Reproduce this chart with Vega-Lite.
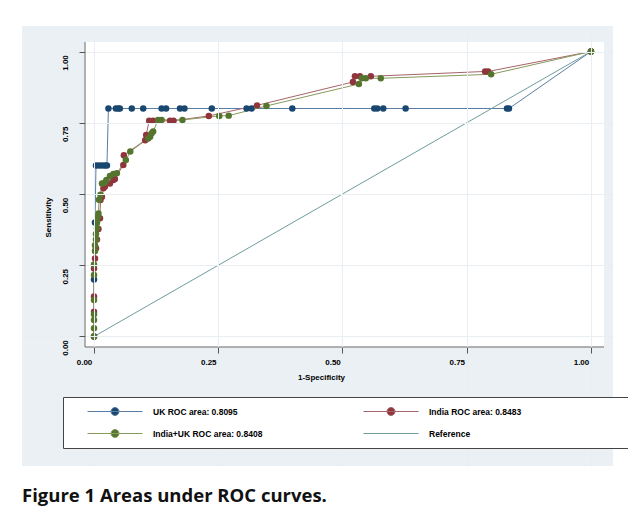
{
  "$schema": "https://vega.github.io/schema/vega-lite/v6.json",
  "width": 591,
  "height": 440,
  "autosize": {"type": "none"},
  "padding": {"left": 22, "top": 26, "right": 15, "bottom": 55},
  "background": "white",
  "config": {
    "view": {"fill": "#eaf0f3", "stroke": null},
    "font": "Liberation Sans"
  },
  "title": {
    "text": "Figure 1 Areas under ROC curves.",
    "orient": "bottom",
    "anchor": "start",
    "offset": 21,
    "font": "Open Sans",
    "fontSize": 18.5,
    "fontWeight": 700,
    "color": "#111111",
    "baseline": "top"
  },
  "datasets": {
    "roc": [
      {"s": "UK ROC area: 0.8095", "ord": 0, "fpr": 0, "sens": 0},
      {"s": "UK ROC area: 0.8095", "ord": 1, "fpr": 0, "sens": 0.2},
      {"s": "UK ROC area: 0.8095", "ord": 2, "fpr": 0.002, "sens": 0.4},
      {"s": "UK ROC area: 0.8095", "ord": 3, "fpr": 0.004, "sens": 0.6},
      {"s": "UK ROC area: 0.8095", "ord": 4, "fpr": 0.01, "sens": 0.6},
      {"s": "UK ROC area: 0.8095", "ord": 5, "fpr": 0.016, "sens": 0.6},
      {"s": "UK ROC area: 0.8095", "ord": 6, "fpr": 0.022, "sens": 0.6},
      {"s": "UK ROC area: 0.8095", "ord": 7, "fpr": 0.026, "sens": 0.6},
      {"s": "UK ROC area: 0.8095", "ord": 8, "fpr": 0.029, "sens": 0.8},
      {"s": "UK ROC area: 0.8095", "ord": 9, "fpr": 0.044, "sens": 0.8},
      {"s": "UK ROC area: 0.8095", "ord": 10, "fpr": 0.049, "sens": 0.8},
      {"s": "UK ROC area: 0.8095", "ord": 11, "fpr": 0.052, "sens": 0.8},
      {"s": "UK ROC area: 0.8095", "ord": 12, "fpr": 0.076, "sens": 0.8},
      {"s": "UK ROC area: 0.8095", "ord": 13, "fpr": 0.099, "sens": 0.8},
      {"s": "UK ROC area: 0.8095", "ord": 14, "fpr": 0.136, "sens": 0.8},
      {"s": "UK ROC area: 0.8095", "ord": 15, "fpr": 0.145, "sens": 0.8},
      {"s": "UK ROC area: 0.8095", "ord": 16, "fpr": 0.173, "sens": 0.8},
      {"s": "UK ROC area: 0.8095", "ord": 17, "fpr": 0.182, "sens": 0.8},
      {"s": "UK ROC area: 0.8095", "ord": 18, "fpr": 0.237, "sens": 0.8},
      {"s": "UK ROC area: 0.8095", "ord": 19, "fpr": 0.307, "sens": 0.8},
      {"s": "UK ROC area: 0.8095", "ord": 20, "fpr": 0.317, "sens": 0.8},
      {"s": "UK ROC area: 0.8095", "ord": 21, "fpr": 0.399, "sens": 0.8},
      {"s": "UK ROC area: 0.8095", "ord": 22, "fpr": 0.564, "sens": 0.8},
      {"s": "UK ROC area: 0.8095", "ord": 23, "fpr": 0.57, "sens": 0.8},
      {"s": "UK ROC area: 0.8095", "ord": 24, "fpr": 0.582, "sens": 0.8},
      {"s": "UK ROC area: 0.8095", "ord": 25, "fpr": 0.627, "sens": 0.8},
      {"s": "UK ROC area: 0.8095", "ord": 26, "fpr": 0.831, "sens": 0.8},
      {"s": "UK ROC area: 0.8095", "ord": 27, "fpr": 0.835, "sens": 0.8},
      {"s": "UK ROC area: 0.8095", "ord": 28, "fpr": 1, "sens": 1},

      {"s": "India ROC area: 0.8483", "ord": 0, "fpr": 0, "sens": 0},
      {"s": "India ROC area: 0.8483", "ord": 1, "fpr": 0, "sens": 0.087},
      {"s": "India ROC area: 0.8483", "ord": 2, "fpr": 0, "sens": 0.14},
      {"s": "India ROC area: 0.8483", "ord": 3, "fpr": 0, "sens": 0.239},
      {"s": "India ROC area: 0.8483", "ord": 4, "fpr": 0.002, "sens": 0.274},
      {"s": "India ROC area: 0.8483", "ord": 5, "fpr": 0.004, "sens": 0.31},
      {"s": "India ROC area: 0.8483", "ord": 6, "fpr": 0.006, "sens": 0.34},
      {"s": "India ROC area: 0.8483", "ord": 7, "fpr": 0.009, "sens": 0.377},
      {"s": "India ROC area: 0.8483", "ord": 8, "fpr": 0.012, "sens": 0.415},
      {"s": "India ROC area: 0.8483", "ord": 9, "fpr": 0.013, "sens": 0.479},
      {"s": "India ROC area: 0.8483", "ord": 10, "fpr": 0.016, "sens": 0.49},
      {"s": "India ROC area: 0.8483", "ord": 11, "fpr": 0.019, "sens": 0.52},
      {"s": "India ROC area: 0.8483", "ord": 12, "fpr": 0.022, "sens": 0.526},
      {"s": "India ROC area: 0.8483", "ord": 13, "fpr": 0.032, "sens": 0.537},
      {"s": "India ROC area: 0.8483", "ord": 14, "fpr": 0.039, "sens": 0.549},
      {"s": "India ROC area: 0.8483", "ord": 15, "fpr": 0.042, "sens": 0.553},
      {"s": "India ROC area: 0.8483", "ord": 16, "fpr": 0.059, "sens": 0.602},
      {"s": "India ROC area: 0.8483", "ord": 17, "fpr": 0.06, "sens": 0.636},
      {"s": "India ROC area: 0.8483", "ord": 18, "fpr": 0.103, "sens": 0.689},
      {"s": "India ROC area: 0.8483", "ord": 19, "fpr": 0.105, "sens": 0.707},
      {"s": "India ROC area: 0.8483", "ord": 20, "fpr": 0.111, "sens": 0.757},
      {"s": "India ROC area: 0.8483", "ord": 21, "fpr": 0.119, "sens": 0.757},
      {"s": "India ROC area: 0.8483", "ord": 22, "fpr": 0.153, "sens": 0.757},
      {"s": "India ROC area: 0.8483", "ord": 23, "fpr": 0.16, "sens": 0.757},
      {"s": "India ROC area: 0.8483", "ord": 24, "fpr": 0.231, "sens": 0.774},
      {"s": "India ROC area: 0.8483", "ord": 25, "fpr": 0.328, "sens": 0.811},
      {"s": "India ROC area: 0.8483", "ord": 26, "fpr": 0.521, "sens": 0.893},
      {"s": "India ROC area: 0.8483", "ord": 27, "fpr": 0.525, "sens": 0.913},
      {"s": "India ROC area: 0.8483", "ord": 28, "fpr": 0.535, "sens": 0.913},
      {"s": "India ROC area: 0.8483", "ord": 29, "fpr": 0.557, "sens": 0.913},
      {"s": "India ROC area: 0.8483", "ord": 30, "fpr": 0.787, "sens": 0.93},
      {"s": "India ROC area: 0.8483", "ord": 31, "fpr": 0.793, "sens": 0.93},
      {"s": "India ROC area: 0.8483", "ord": 32, "fpr": 1, "sens": 1},

      {"s": "India+UK ROC area: 0.8408", "ord": 0, "fpr": 0, "sens": 0},
      {"s": "India+UK ROC area: 0.8408", "ord": 1, "fpr": 0, "sens": 0.029},
      {"s": "India+UK ROC area: 0.8408", "ord": 2, "fpr": 0, "sens": 0.058},
      {"s": "India+UK ROC area: 0.8408", "ord": 3, "fpr": 0, "sens": 0.078},
      {"s": "India+UK ROC area: 0.8408", "ord": 4, "fpr": 0, "sens": 0.128},
      {"s": "India+UK ROC area: 0.8408", "ord": 5, "fpr": 0, "sens": 0.216},
      {"s": "India+UK ROC area: 0.8408", "ord": 6, "fpr": 0, "sens": 0.253},
      {"s": "India+UK ROC area: 0.8408", "ord": 7, "fpr": 0.002, "sens": 0.3},
      {"s": "India+UK ROC area: 0.8408", "ord": 8, "fpr": 0.002, "sens": 0.32},
      {"s": "India+UK ROC area: 0.8408", "ord": 9, "fpr": 0.004, "sens": 0.34},
      {"s": "India+UK ROC area: 0.8408", "ord": 10, "fpr": 0.004, "sens": 0.36},
      {"s": "India+UK ROC area: 0.8408", "ord": 11, "fpr": 0.006, "sens": 0.38},
      {"s": "India+UK ROC area: 0.8408", "ord": 12, "fpr": 0.006, "sens": 0.4},
      {"s": "India+UK ROC area: 0.8408", "ord": 13, "fpr": 0.008, "sens": 0.42},
      {"s": "India+UK ROC area: 0.8408", "ord": 14, "fpr": 0.009, "sens": 0.432},
      {"s": "India+UK ROC area: 0.8408", "ord": 15, "fpr": 0.01, "sens": 0.48},
      {"s": "India+UK ROC area: 0.8408", "ord": 16, "fpr": 0.013, "sens": 0.497},
      {"s": "India+UK ROC area: 0.8408", "ord": 17, "fpr": 0.016, "sens": 0.537},
      {"s": "India+UK ROC area: 0.8408", "ord": 18, "fpr": 0.022, "sens": 0.54},
      {"s": "India+UK ROC area: 0.8408", "ord": 19, "fpr": 0.025, "sens": 0.549},
      {"s": "India+UK ROC area: 0.8408", "ord": 20, "fpr": 0.032, "sens": 0.563},
      {"s": "India+UK ROC area: 0.8408", "ord": 21, "fpr": 0.039, "sens": 0.57},
      {"s": "India+UK ROC area: 0.8408", "ord": 22, "fpr": 0.046, "sens": 0.573},
      {"s": "India+UK ROC area: 0.8408", "ord": 23, "fpr": 0.064, "sens": 0.619},
      {"s": "India+UK ROC area: 0.8408", "ord": 24, "fpr": 0.073, "sens": 0.649},
      {"s": "India+UK ROC area: 0.8408", "ord": 25, "fpr": 0.109, "sens": 0.695},
      {"s": "India+UK ROC area: 0.8408", "ord": 26, "fpr": 0.113, "sens": 0.701},
      {"s": "India+UK ROC area: 0.8408", "ord": 27, "fpr": 0.116, "sens": 0.713},
      {"s": "India+UK ROC area: 0.8408", "ord": 28, "fpr": 0.119, "sens": 0.719},
      {"s": "India+UK ROC area: 0.8408", "ord": 29, "fpr": 0.129, "sens": 0.76},
      {"s": "India+UK ROC area: 0.8408", "ord": 30, "fpr": 0.136, "sens": 0.76},
      {"s": "India+UK ROC area: 0.8408", "ord": 31, "fpr": 0.178, "sens": 0.76},
      {"s": "India+UK ROC area: 0.8408", "ord": 32, "fpr": 0.252, "sens": 0.774},
      {"s": "India+UK ROC area: 0.8408", "ord": 33, "fpr": 0.271, "sens": 0.775},
      {"s": "India+UK ROC area: 0.8408", "ord": 34, "fpr": 0.347, "sens": 0.809},
      {"s": "India+UK ROC area: 0.8408", "ord": 35, "fpr": 0.533, "sens": 0.886},
      {"s": "India+UK ROC area: 0.8408", "ord": 36, "fpr": 0.539, "sens": 0.906},
      {"s": "India+UK ROC area: 0.8408", "ord": 37, "fpr": 0.547, "sens": 0.906},
      {"s": "India+UK ROC area: 0.8408", "ord": 38, "fpr": 0.577, "sens": 0.906},
      {"s": "India+UK ROC area: 0.8408", "ord": 39, "fpr": 0.799, "sens": 0.92},
      {"s": "India+UK ROC area: 0.8408", "ord": 40, "fpr": 1, "sens": 1},

      {"s": "Reference", "ord": 0, "fpr": 0, "sens": 0},
      {"s": "Reference", "ord": 1, "fpr": 1, "sens": 1}
    ]
  },
  "layer": [
    {
      "data": {"values": [{}]},
      "mark": {"type": "rect", "fill": "white"},
      "encoding": {
        "x": {"datum": -0.0181, "type": "quantitative", "scale": {"domain": [-0.1449, 1.0443], "nice": false, "zero": false}},
        "x2": {"datum": 1.0262},
        "y": {"datum": -0.0368, "type": "quantitative", "scale": {"domain": [-0.4544, 1.0895], "nice": false, "zero": false}},
        "y2": {"datum": 1.0333}
      }
    },
    {
      "data": {"values": [{}]},
      "mark": {"type": "rule", "color": "#6a6a6a", "strokeWidth": 1},
      "encoding": {
        "x": {"datum": -0.0181, "type": "quantitative"},
        "y": {"datum": -0.0368, "type": "quantitative"},
        "y2": {"datum": 1.0333}
      }
    },
    {
      "data": {"values": [{}]},
      "mark": {"type": "rule", "color": "#6a6a6a", "strokeWidth": 1},
      "encoding": {
        "x": {"datum": -0.0181, "type": "quantitative"},
        "x2": {"datum": 1.0262},
        "y": {"datum": -0.0368, "type": "quantitative"}
      }
    },
    {
      "data": {"name": "roc"},
      "mark": {"type": "line", "strokeWidth": 1},
      "encoding": {
        "x": {
          "field": "fpr", "type": "quantitative",
          "scale": {"domain": [-0.1449, 1.0443], "nice": false, "zero": false},
          "axis": {
            "values": [0, 0.25, 0.5, 0.75, 1], "format": ".2f", "offset": -119,
            "domain": false, "grid": true, "gridColor": "#e8eef1", "gridWidth": 1,
            "ticks": true, "tickSize": 6, "tickColor": "#555555",
            "labelFont": "Liberation Sans", "labelFontSize": 8, "labelFontWeight": "bold", "labelColor": "#000000",
            "labelPadding": 5, "labelOffset": -10, "labelFlush": false, "labelOverlap": false,
            "title": "1-Specificity", "titleFont": "Liberation Sans", "titleFontSize": 8, "titleFontWeight": "bold", "titleColor": "#000000",
            "titleX": 299, "titleY": 30, "titleAlign": "center", "titleBaseline": "middle", "zindex": 1
          }
        },
        "y": {
          "field": "sens", "type": "quantitative",
          "scale": {"domain": [-0.4544, 1.0895], "nice": false, "zero": false},
          "axis": {
            "values": [0, 0.25, 0.5, 0.75, 1], "format": ".2f", "offset": -63,
            "domain": false, "grid": true, "gridColor": "#e8eef1", "gridWidth": 1,
            "ticks": true, "tickSize": 6, "tickColor": "#555555",
            "labelFont": "Liberation Sans", "labelFontSize": 8, "labelFontWeight": "bold", "labelColor": "#000000",
            "labelAngle": 270, "labelAlign": "center", "labelBaseline": "bottom",
            "labelPadding": 10, "labelOffset": 11, "labelFlush": false, "labelOverlap": false,
            "title": "Sensitivity", "titleFont": "Liberation Sans", "titleFontSize": 8, "titleFontWeight": "bold", "titleColor": "#000000",
            "titleAngle": 270, "titleX": -37, "titleY": 191, "titleAlign": "center", "titleBaseline": "middle", "zindex": 1
          }
        },
        "order": {"field": "ord", "type": "quantitative"},
        "stroke": {
          "field": "s", "type": "nominal",
          "scale": {
            "domain": ["UK ROC area: 0.8095", "India+UK ROC area: 0.8408", "India ROC area: 0.8483", "Reference"],
            "range": ["#5a7ea3", "#889a5c", "#a8636a", "#6e9c9f"]
          },
          "legend": {
            "title": " ",
            "titleOrient": "right",
            "titlePadding": 117,
            "orient": "none",
            "legendX": 41,
            "legendY": 371,
            "columns": 2,
            "columnPadding": 84,
            "rowPadding": 9,
            "padding": 8,
            "clipHeight": 13,
            "symbolSize": 3025,
            "symbolOffset": 16,
            "labelOffset": 10,
            "symbolStrokeWidth": 1,
            "labelFont": "Liberation Sans",
            "labelFontSize": 8.5,
            "labelFontWeight": "bold",
            "labelColor": "#000000",
            "labelLimit": 300,
            "fillColor": "white",
            "strokeColor": "#444444",
            "zindex": 2,
            "encode": {
              "symbols": {
                "update": {
                  "fill": {"signal": "datum.value === 'UK ROC area: 0.8095' ? '#1a476f' : datum.value === 'India ROC area: 0.8483' ? '#90353b' : datum.value === 'India+UK ROC area: 0.8408' ? '#55752f' : 'transparent'"},
                  "shape": {"signal": "datum.value === 'Reference' ? 'M-1,0L1,0' : 'M-1,0L1,0M-0.145,0A0.145,0.145,0,1,1,0.145,0A0.145,0.145,0,1,1,-0.145,0Z'"}
                }
              }
            }
          }
        }
      }
    },
    {
      "data": {"name": "roc"},
      "transform": [{"filter": "datum.s !== 'Reference'"}],
      "mark": {"type": "circle", "size": 42, "opacity": 1},
      "encoding": {
        "x": {"field": "fpr", "type": "quantitative"},
        "y": {"field": "sens", "type": "quantitative"},
        "fill": {
          "field": "s", "type": "nominal",
          "scale": {
            "domain": ["UK ROC area: 0.8095", "India ROC area: 0.8483", "India+UK ROC area: 0.8408"],
            "range": ["#1a476f", "#90353b", "#55752f"]
          },
          "legend": null
        }
      }
    }
  ]
}
